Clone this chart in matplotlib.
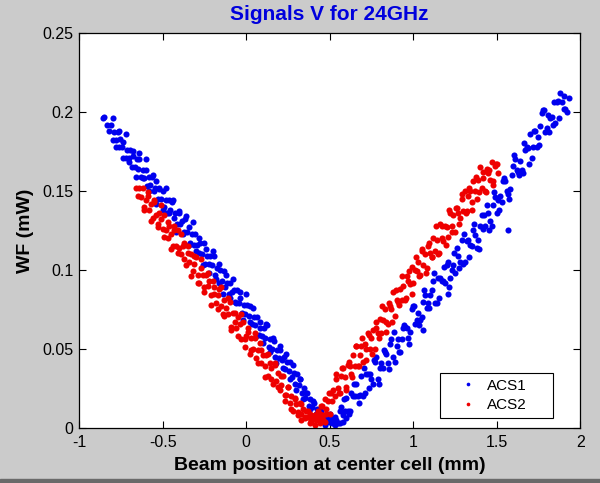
#!/usr/bin/env python3
"""
Signals V for 24GHz: WF power of the two ACS channels vs. beam position.
MATLAB-style scatter (grey figure, boxed axes, inward ticks).
"""
import matplotlib as mpl
mpl.use("Agg")
import matplotlib.pyplot as plt
from matplotlib.patches import Rectangle

mpl.rcParams.update({
    "font.family": ["Liberation Sans", "DejaVu Sans"],
    "axes.linewidth": 0.9,
    "xtick.direction": "in",
    "ytick.direction": "in",
    "xtick.top": True,
    "ytick.right": True,
    "xtick.major.size": 5,
    "ytick.major.size": 5,
    "xtick.labelsize": 11.5,
    "ytick.labelsize": 11.5,
})

# ACS1 (blue), falling side
acs1_fall_x = [-0.86, -0.85, -0.835, -0.82, -0.81, -0.80, -0.79, -0.78, -0.77, -0.76,
               -0.755, -0.745, -0.735, -0.72, -0.715, -0.70, -0.695, -0.685, -0.675, -0.665,
               -0.655, -0.645, -0.64, -0.63, -0.62, -0.61, -0.60, -0.595, -0.585, -0.575,
               -0.565, -0.555, -0.545, -0.54, -0.53, -0.52, -0.51, -0.50, -0.49, -0.48,
               -0.475, -0.465,
               -0.455, -0.445, -0.435, -0.425, -0.415, -0.405, -0.395, -0.385, -0.375, -0.365,
               -0.355, -0.345, -0.335, -0.325, -0.315, -0.305,
               -0.295, -0.285, -0.275, -0.265, -0.255,
               -0.245, -0.235, -0.225, -0.215, -0.205,
               -0.195, -0.185, -0.175, -0.165, -0.155,
               -0.145, -0.135, -0.125, -0.115, -0.105,
               -0.095, -0.085, -0.075, -0.065, -0.055,
               -0.045, -0.035, -0.025, -0.015, -0.005,
               0.005, 0.015, 0.025, 0.035, 0.045,
               0.055, 0.065, 0.075, 0.085, 0.095,
               0.105, 0.115, 0.125, 0.135, 0.145,
               0.155, 0.165, 0.175, 0.185, 0.195,
               0.205, 0.215, 0.225, 0.235, 0.245,
               0.255, 0.265, 0.275, 0.285, 0.295,
               0.305, 0.315, 0.325, 0.335, 0.345,
               0.355, 0.365, 0.375, 0.385, 0.395,
               0.405, 0.415, 0.425, 0.435, 0.445,
               0.455, 0.465, 0.475, 0.485, 0.495,
               0.505, 0.515, 0.525,
               0.47, 0.50, 0.53, 0.56, 0.58, 0.60]
acs1_fall_y = [0.196, 0.197, 0.192, 0.188, 0.192, 0.182, 0.187, 0.182, 0.187, 0.178,
               0.183, 0.178, 0.181, 0.171, 0.176, 0.171, 0.176, 0.165, 0.172, 0.165,
               0.170, 0.164, 0.170, 0.159, 0.163, 0.158, 0.163, 0.153, 0.159, 0.154,
               0.159, 0.150, 0.152, 0.156, 0.145, 0.151, 0.145, 0.150, 0.140, 0.144,
               0.136, 0.144,
               0.138, 0.143, 0.133, 0.136, 0.129, 0.136, 0.129, 0.131, 0.124, 0.132,
               0.124, 0.127, 0.117, 0.123, 0.116, 0.123,
               0.116, 0.111, 0.117, 0.110, 0.117,
               0.104, 0.109, 0.104, 0.109, 0.103,
               0.109, 0.097, 0.101, 0.092, 0.100,
               0.093, 0.099, 0.089, 0.092, 0.085,
               0.092, 0.086, 0.087, 0.080, 0.087,
               0.079, 0.082, 0.073, 0.078, 0.072,
               0.078, 0.071, 0.077, 0.066, 0.070,
               0.065, 0.070, 0.059, 0.063, 0.058,
               0.063, 0.057, 0.065, 0.051, 0.056,
               0.050, 0.055, 0.045, 0.049, 0.044,
               0.049, 0.043, 0.045, 0.037, 0.042,
               0.036, 0.042, 0.032, 0.035, 0.028,
               0.034, 0.027, 0.031, 0.022, 0.025,
               0.019, 0.022, 0.014, 0.018, 0.013,
               0.016, 0.009, 0.012, 0.008, 0.011,
               0.006, 0.007, 0.004, 0.007, 0.004,
               0.006, 0.003, 0.005,
               0.002, 0.009, 0.002, 0.003, 0.004, 0.006]

# ACS1 (blue), falling side, outer points of the band
acs1_fall2_x = [-0.80, -0.78, -0.76, -0.74, -0.72, -0.70, -0.68, -0.66, -0.64, -0.62,
                -0.60, -0.58, -0.56, -0.54, -0.52, -0.50, -0.48, -0.46, -0.44, -0.42,
                -0.40, -0.38, -0.36, -0.34, -0.32, -0.30, -0.28, -0.26, -0.24, -0.22,
                -0.20, -0.18, -0.16, -0.14, -0.12, -0.10, -0.08, -0.06, -0.04, -0.02,
                0.00, 0.02, 0.04, 0.06, 0.08, 0.10, 0.12, 0.14, 0.16, 0.18,
                0.20, 0.22, 0.24, 0.26, 0.28, 0.30, 0.32, 0.34, 0.36, 0.38,
                0.40, 0.42, 0.44]
acs1_fall2_y = [0.196, 0.178, 0.188, 0.171, 0.186, 0.168, 0.175, 0.159, 0.174, 0.158,
                0.170, 0.150, 0.160, 0.142, 0.152, 0.138, 0.152, 0.136, 0.144, 0.124,
                0.137, 0.123, 0.134, 0.116, 0.130, 0.112, 0.120, 0.103, 0.113, 0.098,
                0.112, 0.094, 0.104, 0.085, 0.097, 0.082, 0.094, 0.079, 0.086, 0.068,
                0.085, 0.067, 0.076, 0.058, 0.067, 0.054, 0.066, 0.048, 0.057, 0.041,
                0.052, 0.038, 0.047, 0.031, 0.040, 0.024, 0.031, 0.018, 0.022, 0.012,
                0.017, 0.008, 0.011]

# ACS1 (blue), rising side
acs1_rise_x = [0.53, 0.54, 0.55, 0.56, 0.57, 0.58, 0.59, 0.60, 0.61, 0.62,
               0.63, 0.64, 0.65, 0.66, 0.67, 0.68, 0.69, 0.70, 0.71, 0.72,
               0.73, 0.74, 0.75, 0.76, 0.77, 0.78, 0.79, 0.80, 0.81, 0.82,
               0.83, 0.84, 0.85, 0.86, 0.87, 0.88, 0.89, 0.90, 0.91, 0.92,
               0.93, 0.94, 0.95, 0.96, 0.97, 0.98, 0.99, 1.00, 1.01, 1.02,
               1.03, 1.04, 1.05, 1.06, 1.07, 1.08, 1.09, 1.10, 1.11, 1.12,
               1.13, 1.14, 1.15, 1.16, 1.17, 1.18, 1.19, 1.20, 1.21, 1.22,
               1.23, 1.24, 1.25, 1.26, 1.27, 1.28, 1.29, 1.30, 1.31, 1.32,
               1.33, 1.34, 1.35, 1.36, 1.37, 1.38, 1.39, 1.40, 1.41, 1.42,
               1.43, 1.44, 1.45, 1.46, 1.47, 1.48, 1.49, 1.50, 1.51, 1.52,
               1.53, 1.54, 1.55, 1.56, 1.57, 1.58, 1.59, 1.60, 1.61, 1.62,
               1.63, 1.64, 1.65, 1.66, 1.67, 1.68, 1.69, 1.70, 1.71, 1.72,
               1.73, 1.74, 1.75, 1.76, 1.77, 1.78, 1.79, 1.80, 1.81, 1.82,
               1.83, 1.84, 1.85, 1.86, 1.87, 1.88, 1.89, 1.90, 1.91, 1.92,
               1.93, 1.57, 1.21, 1.06]
acs1_rise_y = [0.007, 0.005, 0.003, 0.011, 0.013, 0.008, 0.011, 0.019, 0.011, 0.011,
               0.022, 0.020, 0.020, 0.028, 0.020, 0.021, 0.033, 0.020, 0.022, 0.034,
               0.034, 0.034, 0.031, 0.028, 0.042, 0.045, 0.031, 0.038, 0.041, 0.038,
               0.048, 0.047, 0.041, 0.053, 0.056, 0.045, 0.042, 0.052, 0.056, 0.048,
               0.056, 0.063, 0.064, 0.063, 0.057, 0.061, 0.075, 0.077, 0.066, 0.068,
               0.073, 0.068, 0.070, 0.080, 0.084, 0.076, 0.079, 0.084, 0.087, 0.093,
               0.079, 0.079, 0.095, 0.095, 0.093, 0.093, 0.092, 0.103, 0.105, 0.095,
               0.100, 0.103, 0.098, 0.114, 0.109, 0.105, 0.119, 0.104, 0.105, 0.118,
               0.119, 0.116, 0.115, 0.125, 0.122, 0.114, 0.119, 0.128, 0.135, 0.126,
               0.128, 0.141, 0.136, 0.131, 0.128, 0.141, 0.146, 0.136, 0.144, 0.147,
               0.143, 0.156, 0.156, 0.150, 0.148, 0.151, 0.160, 0.166, 0.170, 0.163,
               0.162, 0.169, 0.163, 0.161, 0.176, 0.178, 0.177, 0.186, 0.171, 0.178,
               0.188, 0.178, 0.184, 0.191, 0.199, 0.201, 0.187, 0.190, 0.198, 0.196,
               0.197, 0.192, 0.193, 0.206, 0.207, 0.212, 0.206, 0.202, 0.202, 0.200,
               0.209, 0.125, 0.085, 0.062]

# ACS1 (blue), rising side, outer points of the band
acs1_rise2_x = [0.585, 0.615, 0.645, 0.675, 0.705, 0.735, 0.765, 0.795, 0.825, 0.855,
                0.885, 0.915, 0.945, 0.975, 1.005, 1.035, 1.065, 1.095, 1.125, 1.155,
                1.185, 1.215, 1.245, 1.275, 1.305, 1.335, 1.365, 1.395, 1.425, 1.455,
                1.485, 1.515, 1.545, 1.575, 1.605, 1.635, 1.665, 1.695, 1.725, 1.755,
                1.785, 1.815, 1.845, 1.875, 1.905]
acs1_rise2_y = [0.018, 0.009, 0.028, 0.016, 0.038, 0.025, 0.043, 0.028, 0.049, 0.037,
                0.061, 0.048, 0.065, 0.053, 0.077, 0.065, 0.087, 0.076, 0.098, 0.082,
                0.102, 0.089, 0.111, 0.101, 0.123, 0.108, 0.129, 0.113, 0.135, 0.125,
                0.149, 0.138, 0.158, 0.145, 0.173, 0.160, 0.180, 0.167, 0.188, 0.179,
                0.201, 0.187, 0.206, 0.196, 0.210]

# ACS2 (red), falling side
acs2_fall_x = [-0.66, -0.65, -0.64, -0.63, -0.62, -0.61, -0.60, -0.59, -0.58, -0.57,
               -0.56, -0.55, -0.54, -0.53, -0.52, -0.51, -0.50, -0.49, -0.48, -0.47,
               -0.46, -0.45, -0.44, -0.43, -0.42, -0.41, -0.40, -0.39, -0.38, -0.37,
               -0.36, -0.35, -0.34, -0.33, -0.32, -0.31, -0.30, -0.29, -0.28, -0.27,
               -0.26, -0.25, -0.24, -0.23, -0.22, -0.21, -0.20, -0.19, -0.18, -0.17,
               -0.16, -0.15, -0.14, -0.13, -0.12, -0.11, -0.10, -0.09, -0.08, -0.07,
               -0.06, -0.05, -0.04, -0.03, -0.02, -0.01, 0.00, 0.01, 0.02, 0.03,
               0.04, 0.05, 0.06, 0.07, 0.08, 0.09, 0.10, 0.11, 0.12, 0.13,
               0.14, 0.15, 0.16, 0.17, 0.18, 0.19, 0.20, 0.21, 0.22, 0.23,
               0.24, 0.25, 0.26, 0.27, 0.28, 0.29, 0.30, 0.31, 0.32, 0.33,
               0.34, 0.35, 0.36, 0.37, 0.38, 0.39, 0.40, 0.41, 0.42, 0.43,
               0.44, 0.45, 0.46,
               0.33, 0.38, 0.41, 0.44, 0.47]
acs2_fall_y = [0.152, 0.147, 0.152, 0.146, 0.152, 0.140, 0.144, 0.147, 0.138, 0.142,
               0.133, 0.143, 0.135, 0.127, 0.136, 0.132, 0.126, 0.135, 0.125, 0.120,
               0.128, 0.123, 0.115, 0.125, 0.115, 0.125, 0.114, 0.110, 0.115, 0.117,
               0.103, 0.111, 0.105, 0.110, 0.099, 0.104, 0.108, 0.097, 0.092, 0.101,
               0.097, 0.086, 0.097, 0.090, 0.093, 0.084, 0.093, 0.085, 0.079, 0.084,
               0.088, 0.077, 0.072, 0.081, 0.076, 0.072, 0.080, 0.064, 0.073, 0.067,
               0.063, 0.070, 0.066, 0.056, 0.067, 0.056, 0.058, 0.061, 0.047, 0.057,
               0.050, 0.057, 0.044, 0.049, 0.054, 0.041, 0.046, 0.039, 0.046, 0.033,
               0.041, 0.038, 0.028, 0.040, 0.030, 0.035, 0.024, 0.027, 0.033, 0.021,
               0.021, 0.026, 0.016, 0.020, 0.011, 0.018, 0.015, 0.010, 0.016, 0.009,
               0.012, 0.007, 0.011, 0.007, 0.009, 0.004, 0.007, 0.008, 0.005, 0.006,
               0.003, 0.006, 0.005,
               0.005, 0.003, 0.002, 0.009, 0.004]

# ACS2 (red), falling side, outer points of the band
acs2_fall2_x = [-0.61, -0.59, -0.57, -0.55, -0.53, -0.51, -0.49, -0.47, -0.45, -0.43,
                -0.41, -0.39, -0.37, -0.35, -0.33, -0.31, -0.29, -0.27, -0.25, -0.23,
                -0.21, -0.19, -0.17, -0.15, -0.13, -0.11, -0.09, -0.07, -0.05, -0.03,
                -0.01, 0.01, 0.03, 0.05, 0.07, 0.09, 0.11, 0.13, 0.15, 0.17,
                0.19, 0.21, 0.23, 0.25, 0.27, 0.29, 0.31, 0.33, 0.35, 0.37,
                0.39, 0.41]
acs2_fall2_y = [0.138, 0.149, 0.131, 0.144, 0.129, 0.141, 0.121, 0.130, 0.113, 0.128,
                0.111, 0.123, 0.107, 0.115, 0.096, 0.109, 0.092, 0.107, 0.089, 0.098,
                0.078, 0.089, 0.075, 0.089, 0.071, 0.082, 0.062, 0.073, 0.058, 0.072,
                0.051, 0.063, 0.049, 0.060, 0.041, 0.049, 0.032, 0.047, 0.031, 0.041,
                0.026, 0.033, 0.017, 0.026, 0.012, 0.019, 0.008, 0.015, 0.006, 0.011,
                0.005, 0.008]

# ACS2 (red), rising side
acs2_rise_x = [0.42, 0.43, 0.44, 0.45, 0.46, 0.47, 0.48, 0.49, 0.50, 0.51,
               0.52, 0.53, 0.54, 0.55, 0.56, 0.57, 0.58, 0.59, 0.60, 0.61,
               0.62, 0.63, 0.64, 0.65, 0.66, 0.67, 0.68, 0.69, 0.70, 0.71,
               0.72, 0.73, 0.74, 0.75, 0.76, 0.77, 0.78, 0.79, 0.80, 0.81,
               0.82, 0.83, 0.84, 0.85, 0.86, 0.87, 0.88, 0.89, 0.90, 0.91,
               0.92, 0.93, 0.94, 0.95, 0.96, 0.97, 0.98, 0.99, 1.00, 1.01,
               1.02, 1.03, 1.04, 1.05, 1.06, 1.07, 1.08, 1.09, 1.10, 1.11,
               1.12, 1.13, 1.14, 1.15, 1.16, 1.17, 1.18, 1.19, 1.20, 1.21,
               1.22, 1.23, 1.24, 1.25, 1.26, 1.27, 1.28, 1.29, 1.30, 1.31,
               1.32, 1.33, 1.34, 1.35, 1.36, 1.37, 1.38, 1.39, 1.40, 1.41,
               1.42, 1.43, 1.44, 1.45, 1.46, 1.47, 1.48, 1.49, 1.50, 1.51]
acs2_rise_y = [0.006, 0.011, 0.008, 0.014, 0.008, 0.018, 0.009, 0.017, 0.009, 0.022,
               0.024, 0.020, 0.034, 0.025, 0.022, 0.033, 0.038, 0.032, 0.026, 0.040,
               0.039, 0.034, 0.046, 0.039, 0.052, 0.039, 0.046, 0.052, 0.042, 0.053,
               0.050, 0.060, 0.050, 0.057, 0.062, 0.050, 0.063, 0.060, 0.069, 0.060,
               0.068, 0.075, 0.067, 0.066, 0.077, 0.075, 0.086, 0.071, 0.081, 0.080,
               0.088, 0.081, 0.090, 0.081, 0.096, 0.093, 0.091, 0.102, 0.092, 0.100,
               0.099, 0.105, 0.097, 0.112, 0.103, 0.110, 0.101, 0.115, 0.111, 0.108,
               0.120, 0.112, 0.119, 0.110, 0.129, 0.120, 0.118, 0.128, 0.127, 0.121,
               0.136, 0.128, 0.135, 0.124, 0.139, 0.136, 0.133, 0.145, 0.137, 0.150,
               0.137, 0.147, 0.150, 0.143, 0.156, 0.150, 0.145, 0.157, 0.165, 0.152,
               0.158, 0.150, 0.164, 0.161, 0.157, 0.168, 0.156, 0.166, 0.167, 0.161]

# ACS2 (red), rising side, outer points of the band
acs2_rise2_x = [0.455, 0.475, 0.495, 0.515, 0.535, 0.555, 0.575, 0.595, 0.615, 0.635,
                0.655, 0.675, 0.695, 0.715, 0.735, 0.755, 0.775, 0.795, 0.815, 0.835,
                0.855, 0.875, 0.895, 0.915, 0.935, 0.955, 0.975, 0.995, 1.015, 1.035,
                1.055, 1.075, 1.095, 1.115, 1.135, 1.155, 1.175, 1.195, 1.215, 1.235,
                1.255, 1.275, 1.295, 1.315, 1.335, 1.355, 1.375, 1.395, 1.415, 1.435,
                1.455, 1.475, 1.495]
acs2_rise2_y = [0.014, 0.012, 0.022, 0.017, 0.031, 0.022, 0.038, 0.024, 0.042, 0.032,
                0.052, 0.039, 0.057, 0.043, 0.059, 0.047, 0.067, 0.057, 0.077, 0.061,
                0.079, 0.067, 0.087, 0.078, 0.096, 0.082, 0.099, 0.085, 0.108, 0.096,
                0.113, 0.098, 0.117, 0.108, 0.128, 0.111, 0.128, 0.116, 0.138, 0.124,
                0.139, 0.129, 0.148, 0.136, 0.152, 0.138, 0.159, 0.149, 0.162, 0.149,
                0.163, 0.154, 0.167]

X_TICKS = [-1, -0.5, 0, 0.5, 1, 1.5, 2]
X_TICK_LABELS = ["-1", "-0.5", "0", "0.5", "1", "1.5", "2"]
Y_TICKS = [0, 0.05, 0.1, 0.15, 0.2, 0.25]
Y_TICK_LABELS = ["0", "0.05", "0.1", "0.15", "0.2", "0.25"]

BG = "#cbcbcb"


def plot():
    fig = plt.figure(figsize=(6.0, 4.83), dpi=100, facecolor=BG)
    ax = fig.add_axes([0.132, 0.114, 0.835, 0.818])
    ax.set_facecolor("white")

    acs1_x = acs1_fall_x + acs1_fall2_x + acs1_rise_x + acs1_rise2_x
    acs1_y = acs1_fall_y + acs1_fall2_y + acs1_rise_y + acs1_rise2_y
    acs2_x = acs2_fall_x + acs2_fall2_x + acs2_rise_x + acs2_rise2_x
    acs2_y = acs2_fall_y + acs2_fall2_y + acs2_rise_y + acs2_rise2_y

    ax.plot(acs1_x, acs1_y, linestyle="none", marker="o", ms=4.4, mew=0,
            color="#0000ee", label="ACS1")
    ax.plot(acs2_x, acs2_y, linestyle="none", marker="o", ms=4.4, mew=0,
            color="#ee0000", label="ACS2")

    ax.set_xlim(-1, 2)
    ax.set_ylim(0, 0.25)
    ax.set_xticks(X_TICKS)
    ax.set_xticklabels(X_TICK_LABELS)
    ax.set_yticks(Y_TICKS)
    ax.set_yticklabels(Y_TICK_LABELS)
    ax.tick_params(width=0.8)
    ax.tick_params(axis="x", pad=5)
    ax.tick_params(axis="y", pad=4)

    ax.set_title("Signals V for 24GHz", color="#0000dd", fontsize=15,
                 fontweight="bold", pad=9)
    ax.set_xlabel("Beam position at center cell (mm)", fontsize=14,
                  fontweight="bold", labelpad=5)
    ax.set_ylabel("WF (mW)", fontsize=14, fontweight="bold", labelpad=6)

    # MATLAB-like legend: wide box with the entries sitting left of centre
    ax.add_patch(Rectangle((0.7206, 0.0254), 0.2254, 0.1142,
                           transform=ax.transAxes, facecolor="white",
                           edgecolor="black", linewidth=0.8, zorder=5))
    leg = ax.legend(loc="center left", bbox_to_anchor=(0.760, 0.0825),
                    fontsize=11, frameon=False, borderpad=0,
                    handletextpad=0.75, handlelength=1.0, markerscale=0.6,
                    labelspacing=0.35, borderaxespad=0)
    leg.set_zorder(6)

    # dark window border along the bottom edge
    fig.patches.append(Rectangle((0, 0), 1, 4 / 483, transform=fig.transFigure,
                                 color="#6a6a6a", zorder=0))

    fig.savefig("out.png", dpi=100, facecolor=BG)


if __name__ == "__main__":
    plot()
